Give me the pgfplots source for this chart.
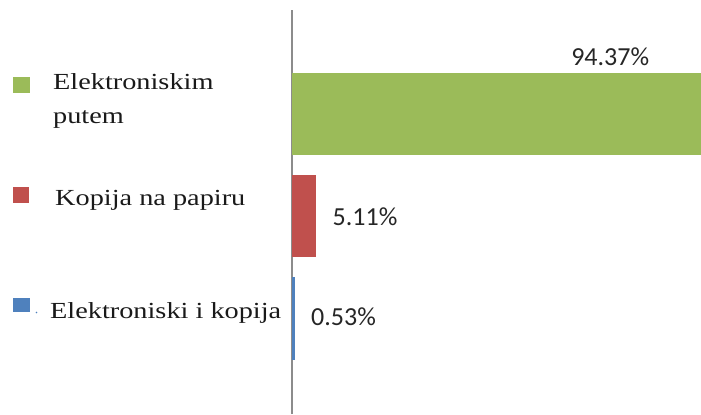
\documentclass[border=0pt]{standalone}
\usepackage{pgfplots}
\pgfplotsset{compat=1.18}
\usepackage{fontspec}
\setmainfont{Liberation Serif}
\newfontfamily\labfont[FakeStretch=1.23]{Liberation Serif}
\newfontfamily\numfont{Carlito}
\definecolor{cg}{HTML}{9BBB59}
\definecolor{cr}{HTML}{C0504D}
\definecolor{cb}{HTML}{4F81BD}
\definecolor{axgray}{RGB}{140,140,140}
\begin{document}
\begin{tikzpicture}[x=1bp,y=1bp]
\begin{axis}[at={(292bp,0bp)}, anchor=south west, scale only axis,
  width=409bp, height=404bp,
  xmin=0, xmax=87.02, ymin=-0.941, ymax=3.020,
  axis x line=none, axis y line*=left,
  y axis line style={draw=axgray, line width=1.5bp},
  xtick=\empty, ytick=\empty,
  xbar, bar width=82bp, bar shift=0pt]
\addplot[draw=none, fill=cg] coordinates {(94.37,2)};
\addplot[draw=none, fill=cr] coordinates {(5.11,1)};
\addplot[draw=cb, line width=0.8bp, fill=cb] coordinates {(0.53,0)};
\node[anchor=base, inner sep=0, font=\numfont\fontsize{26bp}{30bp}\selectfont, text=black!85] at (axis cs:67.7,2.480) {94.37\%};
\node[anchor=base, inner sep=0, font=\numfont\fontsize{26bp}{30bp}\selectfont, text=black!85] at (axis cs:15.53,0.912) {5.11\%};
\node[anchor=base, inner sep=0, font=\numfont\fontsize{26bp}{30bp}\selectfont, text=black!85] at (axis cs:10.96,-0.078) {0.53\%};
\end{axis}
\fill[cg] (13,321) rectangle (30,337);
\fill[cr] (13,211) rectangle (29,227);
\fill[cb] (13,102) rectangle (30,116);
\fill[cb] (36.5,101.5) circle (0.8);
\begin{scope}[every node/.style={anchor=base west, inner sep=0, font=\labfont\fontsize{23bp}{34bp}\selectfont, text=black!90}]
\node at (53,325) {Elektroniskim};
\node at (53,291) {putem};
\node at (55,209) {Kopija na papiru};
\node at (50,96) {Elektroniski i kopija};
\end{scope}
\pgfresetboundingbox
\path (0,0) rectangle (701,414);
\end{tikzpicture}
\end{document}
